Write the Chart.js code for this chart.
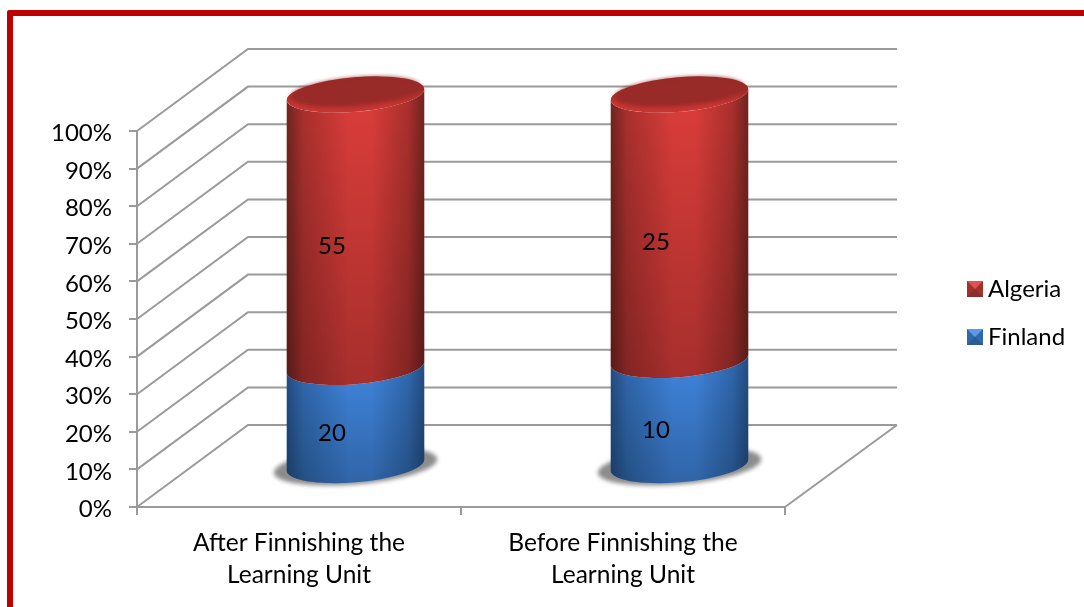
<!DOCTYPE html>
<html>
<head>
<meta charset="utf-8">
<title>Learning Unit</title>
<script src="https://cdn.jsdelivr.net/npm/chart.js@4"></script>
<style>
  html, body { margin: 0; height: 100%; background: #fff; overflow: hidden; }
  #frame { position: absolute; left: 7px; top: 10px; width: 1120px; height: 640px; border: 6px solid #c00000; border-radius: 2px; }
  #chart { position: absolute; left: 0; top: 0; }
</style>
</head>
<body>
<div id="frame"></div>
<canvas id="chart" width="1084" height="607"></canvas>
<script>
const categories = [['After Finnishing the', 'Learning Unit'], ['Before Finnishing the', 'Learning Unit']];
const finland = [20, 10];
const algeria = [55, 25];

const fontFamily = 'Lato, "Open Sans", sans-serif';
const fontSize = 24;
const gridColor = '#9a9a9a';
const gridWidth = 2;

// depth of the box the columns stand in
const depthX = 111;
const depthY = 82;
// the round columns read slightly shorter than the walls
const columnScale = 0.988;

const red = { edge: '#6f2320', side: '#aa302d', mid: '#da3d3a', capRim: '#c93633', cap: '#982a27' };
const blue = { edge: '#234d82', side: '#3068ad', mid: '#3f84dc' };

// 100% stack: each bar is the share of its category total
function share(values, other) {
  return values.map((v, i) => v / (v + other[i]) * 100);
}

const wallPlugin = {
  id: 'walls',
  beforeDatasetsDraw(chart) {
    const { ctx, scales: { y }, chartArea: a } = chart;
    ctx.save();
    ctx.strokeStyle = gridColor;
    ctx.lineWidth = gridWidth;
    ctx.beginPath();
    y.ticks.forEach(t => {
      const py = y.getPixelForValue(t.value);
      ctx.moveTo(a.left, py);
      ctx.lineTo(a.left + depthX, py - depthY);
      ctx.lineTo(a.right + depthX + 1, py - depthY);
    });
    // right edge of the floor
    ctx.moveTo(a.right, a.bottom);
    ctx.lineTo(a.right + depthX + 1, a.bottom - depthY);
    ctx.stroke();
    ctx.restore();
  }
};

// tilted ellipse used for every cylinder slice
const tilt = -0.085;
const ratio = 0.25;
const t0 = Math.atan(ratio * Math.tan(-tilt));

function cylinderPath(ctx, cx, top, bottom, rx) {
  const ry = rx * ratio;
  ctx.beginPath();
  ctx.ellipse(cx, bottom, rx, ry, tilt, t0, t0 + Math.PI);
  ctx.ellipse(cx, top, rx, ry, tilt, t0 + Math.PI, t0, true);
  ctx.closePath();
}

function paintSlice(ctx, cx, top, bottom, rx, pal) {
  const ry = rx * ratio;
  ctx.save();
  cylinderPath(ctx, cx, top, bottom, rx);
  const g = ctx.createLinearGradient(cx - rx, 0, cx + rx, 0);
  g.addColorStop(0, pal.edge);
  g.addColorStop(0.12, pal.side);
  g.addColorStop(0.45, pal.mid);
  g.addColorStop(0.62, pal.mid);
  g.addColorStop(0.88, pal.side);
  g.addColorStop(1, pal.edge);
  ctx.fillStyle = g;
  ctx.fill();
  const shade = ctx.createLinearGradient(0, top, 0, bottom + ry);
  shade.addColorStop(0, 'rgba(0,0,0,0)');
  shade.addColorStop(1, 'rgba(0,0,0,0.24)');
  ctx.fillStyle = shade;
  ctx.fill();
  ctx.restore();
}

const cylinderPlugin = {
  id: 'cylinders',
  afterDatasetsDraw(chart) {
    const { ctx, chartArea: area } = chart;
    const dx = depthX / 2 + 1;
    // project a scale pixel onto the mid-depth plane of the box
    const project = py => area.bottom - depthY / 2 - (area.bottom - py) * columnScale;
    const first = chart.getDatasetMeta(0).data;
    const last = chart.getDatasetMeta(1).data;

    // soft shadow on the floor
    first.forEach(bar => {
      const rx = bar.width / 2;
      ctx.save();
      ctx.filter = 'blur(2px)';
      ctx.fillStyle = 'rgba(70,70,70,0.62)';
      ctx.beginPath();
      ctx.ellipse(bar.x + dx, project(bar.base) + 1, rx + 13, rx * ratio + 1, tilt, 0, Math.PI * 2);
      ctx.fill();
      ctx.restore();
    });

    chart.data.datasets.forEach((ds, i) => {
      chart.getDatasetMeta(i).data.forEach(bar => {
        paintSlice(ctx, bar.x + dx, project(bar.y), project(bar.base), bar.width / 2, ds.palette);
      });
    });

    // top caps
    last.forEach(bar => {
      const rx = bar.width / 2;
      const ry = rx * ratio;
      const cx = bar.x + dx;
      const cy = project(bar.y);
      ctx.save();
      const rim = ctx.createLinearGradient(0, cy - ry, 0, cy + ry);
      rim.addColorStop(0.25, red.cap);
      rim.addColorStop(0.8, red.capRim);
      ctx.fillStyle = rim;
      ctx.beginPath();
      ctx.ellipse(cx, cy, rx, ry, tilt, 0, Math.PI * 2);
      ctx.fill();
      ctx.filter = 'blur(2px)';
      ctx.fillStyle = red.cap;
      ctx.beginPath();
      ctx.ellipse(cx, cy - 2.5, rx - 4, ry - 3, tilt, 0, Math.PI * 2);
      ctx.fill();
      ctx.restore();
    });

    // value labels
    ctx.save();
    ctx.font = fontSize + 'px ' + fontFamily;
    ctx.fillStyle = '#000';
    ctx.textAlign = 'center';
    ctx.textBaseline = 'middle';
    chart.data.datasets.forEach((ds, i) => {
      chart.getDatasetMeta(i).data.forEach((bar, j) => {
        ctx.fillText(String(ds.raw[j]), bar.x + 33, (bar.y + bar.base) / 2 - 23);
      });
    });
    ctx.restore();
  }
};

// legend with bevelled swatches, top series first
const legendPlugin = {
  id: 'sideLegend',
  afterDraw(chart) {
    const { ctx } = chart;
    const swatches = [{ y: 281, c: ['#e0524f', '#a52f2c', '#86302d'] }, { y: 329, c: ['#5a9be4', '#3068ad', '#2b5b94'] }];
    [...chart.data.datasets].reverse().forEach((ds, i) => {
      const x = 967, s = 16, y = swatches[i].y, c = swatches[i].c;
      const tri = (ax, ay, bx, by, col) => {
        ctx.fillStyle = col;
        ctx.beginPath();
        ctx.moveTo(ax, ay);
        ctx.lineTo(bx, by);
        ctx.lineTo(x + s / 2, y + s / 2);
        ctx.closePath();
        ctx.fill();
      };
      ctx.fillStyle = c[1];
      ctx.fillRect(x, y, s, s);
      tri(x, y + s, x + s, y + s, c[2]);
      tri(x, y, x + s, y, c[0]);
      ctx.fillStyle = '#000';
      ctx.font = fontSize + 'px ' + fontFamily;
      ctx.textAlign = 'left';
      ctx.textBaseline = 'middle';
      ctx.fillText(ds.label, 988, y + 8);
    });
  }
};

new Chart(document.getElementById('chart'), {
  type: 'bar',
  data: {
    labels: categories,
    datasets: [
      { label: 'Finland', data: share(finland, algeria), raw: finland, palette: blue, backgroundColor: 'transparent', categoryPercentage: 0.426, barPercentage: 1 },
      { label: 'Algeria', data: share(algeria, finland), raw: algeria, palette: red, backgroundColor: 'transparent', categoryPercentage: 0.426, barPercentage: 1 }
    ]
  },
  plugins: [wallPlugin, cylinderPlugin, legendPlugin],
  options: {
    responsive: false,
    animation: false,
    layout: { padding: { left: 0, top: 131, right: 299, bottom: 0 } },
    plugins: { legend: { display: false }, tooltip: { enabled: false } },
    scales: {
      x: {
        stacked: true,
        afterFit(scale) { scale.height = 100; },
        border: { color: gridColor, width: gridWidth },
        grid: { drawOnChartArea: false, drawTicks: true, tickLength: 8, color: gridColor, lineWidth: gridWidth },
        ticks: {
          color: '#000',
          maxRotation: 0,
          padding: 12,
          font: { family: fontFamily, size: 24.5, lineHeight: 1.31 }
        }
      },
      y: {
        stacked: true,
        min: 0,
        max: 100,
        afterFit(scale) { scale.width = 137; },
        border: { color: gridColor, width: gridWidth },
        grid: { drawOnChartArea: false, drawTicks: true, tickLength: 8, color: gridColor, lineWidth: gridWidth },
        ticks: {
          stepSize: 10,
          color: '#000',
          padding: 17,
          // blank first line drops the text a little below its tick
          font: { family: fontFamily, size: fontSize, lineHeight: '5px' },
          callback: v => ['', v + '%']
        }
      }
    }
  }
});
</script>
</body>
</html>
